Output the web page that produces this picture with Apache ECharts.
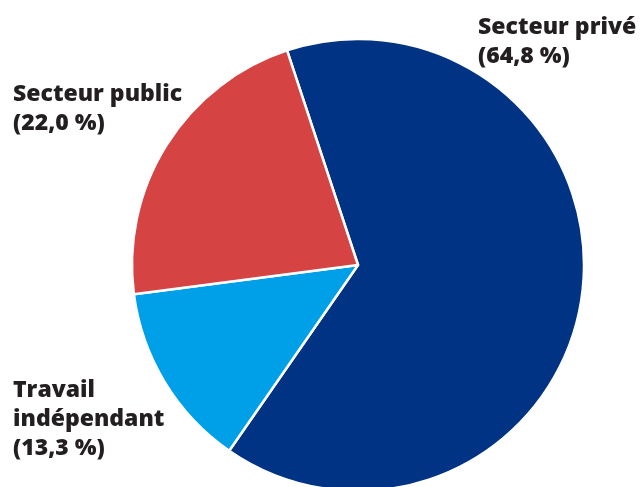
<!DOCTYPE html>
<html><head><meta charset="utf-8">
<script src="https://cdn.jsdelivr.net/npm/echarts@6/dist/echarts.min.js"></script>
<style>html,body{margin:0;padding:0;background:#fff}#c{width:642px;height:487px}</style>
</head><body><div id="c"></div>
<script>
const categories = ['Secteur privé', 'Travail indépendant', 'Secteur public'];
const labelTexts = ['Secteur privé', 'Travail\nindépendant', 'Secteur public'];
const values = [64.8, 13.3, 22.0];
const colors = ['#003383', '#00a0e9', '#d64343'];
const labelPos = [[478, 13], [13, 376], [13, 80]];

const chart = echarts.init(document.getElementById('c'));
chart.setOption({
  animation: false,
  series: [{
    type: 'pie',
    center: [358, 265],
    radius: [0, 226],
    startAngle: 108.3,
    clockwise: true,
    data: categories.map((c, i) => ({
      name: c, value: values[i],
      itemStyle: { color: colors[i] }
    })),
    itemStyle: { borderColor: '#fff', borderWidth: 2.5 },
    label: { show: false },
    labelLine: { show: false }
  }],
  graphic: categories.map((c, i) => ({
    type: 'text',
    left: labelPos[i][0], top: labelPos[i][1],
    style: {
      text: labelTexts[i] + '\n(' + values[i].toFixed(1).replace('.', ',') + ' %)',
      fill: '#231f20',
      font: '800 23px "Open Sans", sans-serif',
      lineHeight: 29
    }
  }))
});
</script></body></html>
